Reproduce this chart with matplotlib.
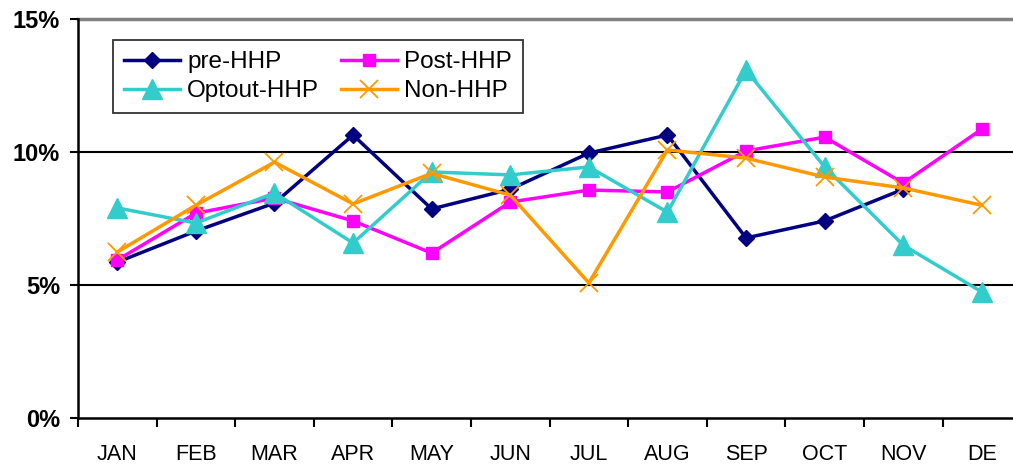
import numpy as np
import matplotlib.pyplot as plt

plt.rcParams['font.family'] = ['Liberation Sans', 'DejaVu Sans']

months = ["JAN", "FEB", "MAR", "APR", "MAY", "JUN", "JUL", "AUG", "SEP", "OCT", "NOV", "DE"]

pre_hhp = [5.86, 7.03, 8.08, 10.64, 7.86, 8.6, 9.96, 10.64, 6.77, 7.41, 8.6, np.nan]
post_hhp = [5.94, 7.7, 8.27, 7.41, 6.2, 8.12, 8.57, 8.5, 10.04, 10.56, 8.83, 10.86]
optout_hhp = [7.9, 7.33, 8.46, 6.58, 9.25, 9.14, 9.44, 7.74, 13.08, 9.44, 6.5, 4.74]
non_hhp = [6.24, 8.0, 9.62, 8.05, 9.2, 8.38, 5.08, 10.08, 9.77, 9.06, 8.65, 8.0]

fig = plt.figure(figsize=(10.13, 4.69), dpi=100)
ax = fig.add_axes([0.077, 0.1087, 0.931, 0.8507])

x = np.arange(len(months))
lw = 2.5

l_pre, = ax.plot(x, np.array(pre_hhp) / 100, color='#000080', lw=lw, marker='D', ms=8.5,
                 label='pre-HHP', zorder=3)
l_post, = ax.plot(x, np.array(post_hhp) / 100, color='#FF00FF', lw=lw, marker='s', ms=8.5,
                  label='Post-HHP', zorder=3)
l_opt, = ax.plot(x, np.array(optout_hhp) / 100, color='#33CCCC', lw=lw, marker='^', ms=14,
                 label='Optout-HHP', zorder=3)
l_non, = ax.plot(x, np.array(non_hhp) / 100, color='#FF9900', lw=lw, marker='x', ms=13,
                 mew=1.3, label='Non-HHP', zorder=3)

ax.set_xlim(-0.5, 11.5)
ax.set_ylim(0, 0.15)

# gridlines
for yv in [0.05, 0.10]:
    ax.axhline(yv, color='black', lw=1.5, zorder=1)
ax.axhline(0.15, color='#808080', lw=2.5, zorder=1, clip_on=False)

ax.set_yticks([0, 0.05, 0.10, 0.15])
ax.set_yticklabels(["0%", "5%", "10%", "15%"], fontsize=17, fontweight='bold')
ax.tick_params(axis='y', direction='out', length=6, width=1.5, pad=7)

ax.set_xticks(x)
ax.set_xticklabels(months, fontsize=15.5)
ax.set_xticks(np.arange(-0.5, 12, 1), minor=True)
ax.tick_params(axis='x', which='major', length=0, pad=19)
ax.tick_params(axis='x', which='minor', direction='out', length=6.5, width=1.5)

for side in ['top', 'right']:
    ax.spines[side].set_visible(False)
ax.spines['left'].set_linewidth(1.8)
ax.spines['bottom'].set_linewidth(1.8)

# row order: pre / Post, Optout / Non
leg = ax.legend([l_pre, l_opt, l_post, l_non],
                ['pre-HHP', 'Optout-HHP', 'Post-HHP', 'Non-HHP'],
                ncol=2, loc='upper left', bbox_to_anchor=(0.037, 0.947),
                fontsize=17.5, frameon=True, fancybox=False, edgecolor='black',
                handlelength=2.3, columnspacing=0.9, borderpad=0.45,
                labelspacing=0.3, handletextpad=0.3, borderaxespad=0)
leg.get_frame().set_linewidth(1.3)

plt.savefig("out.png", dpi=100)
plt.close()
